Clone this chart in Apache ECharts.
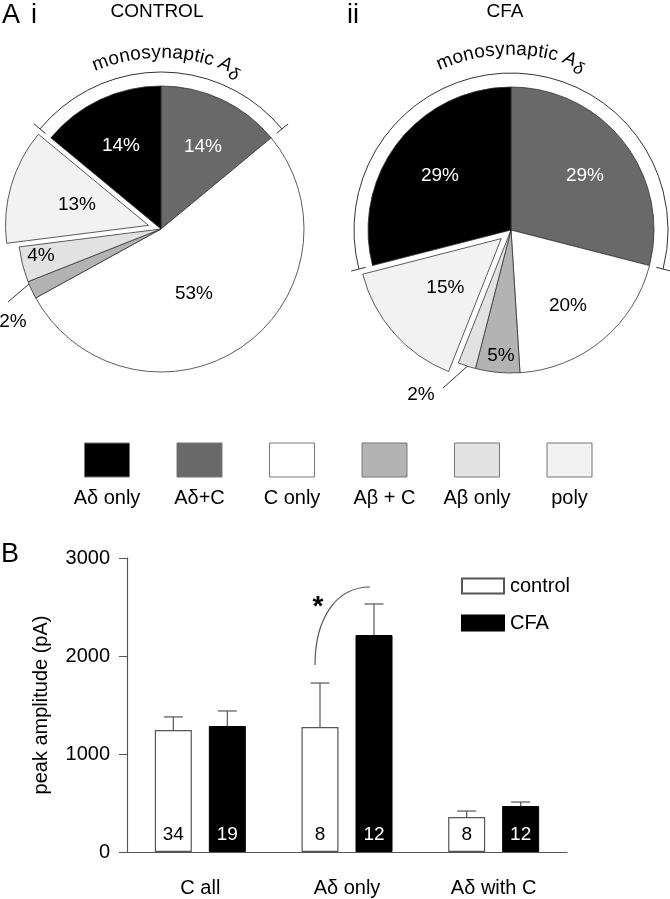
<!DOCTYPE html>
<html>
<head>
<meta charset="utf-8">
<script src="https://cdn.jsdelivr.net/npm/echarts@6/dist/echarts.min.js"></script>
<style>
  html, body { margin: 0; padding: 0; background: #fff; }
  #chart { width: 670px; height: 899px; }
</style>
</head>
<body>
<div id="chart"></div>
<script>
// ---- data ----
// pie slices, clockwise from 12 o'clock
const pieCats = ['Aδ+C', 'C only', 'Aβ + C', 'Aβ only', 'poly', 'Aδ only'];
const controlPct = [14, 53, 2, 4, 13, 14];
const cfaPct = [29, 20, 5, 2, 15, 29];
const explodedCat = 'poly';

// legend order under the pies
const legendCats = ['Aδ only', 'Aδ+C', 'C only', 'Aβ + C', 'Aβ only', 'poly'];

// bar chart
const barCats = ['C all', 'Aδ only', 'Aδ with C'];
const controlMean = [1245, 1276, 357];
const controlSem = [133, 448, 61];
const controlN = [34, 8, 8];
const cfaMean = [1286, 2214, 469];
const cfaSem = [153, 317, 41];
const cfaN = [19, 12, 12];
const yTicks = [0, 1000, 2000, 3000];

// ---- styles / layout ----
const FONT = '"Liberation Sans", Arial, Helvetica, sans-serif';
const catColor = {
  'Aδ only': '#000000',
  'Aδ+C': '#696969',
  'C only': '#ffffff',
  'Aβ + C': '#b3b3b3',
  'Aβ only': '#e2e2e2',
  'poly': '#f2f2f2'
};
const darkCats = ['Aδ only', 'Aδ+C'];
const PIE_R = 143;
const controlCenter = [161, 229];
const cfaCenter = [511, 230];
// label positions for each slice (same order as pieCats)
const controlLabelPos = [[203, 147], [194, 294], [13, 322], [41, 256], [56, 202], [121, 146]];
const cfaLabelPos = [[585, 176], [568, 306], [501, 356], [421, 395], [432, 310], [440, 176]];

const chart = echarts.init(document.getElementById('chart'), null, { renderer: 'canvas' });

function pieSeries(pct, center, labelPos) {
  return {
    type: 'pie',
    center: center,
    radius: PIE_R,
    startAngle: 90,
    clockwise: true,
    selectedMode: 'multiple',
    selectedOffset: 13,
    avoidLabelOverlap: false,
    emphasis: { disabled: true },
    itemStyle: { borderColor: '#333', borderWidth: 0.8 },
    label: {
      show: true,
      position: 'inside',
      formatter: '{c}%',
      fontSize: 19,
      fontFamily: FONT
    },
    labelLine: { show: false },
    labelLayout: function (p) {
      const pos = labelPos[p.dataIndex];
      return { x: pos[0], y: pos[1], align: 'center', verticalAlign: 'middle' };
    },
    data: pieCats.map((c, i) => ({
      name: c,
      value: pct[i],
      selected: c === explodedCat,
      itemStyle: { color: catColor[c] },
      label: { color: darkCats.includes(c) ? '#fff' : '#000' }
    }))
  };
}

// curved "monosynaptic Aδ" text
const measureCtx = document.createElement('canvas').getContext('2d');
function arcText(center, r, centerDeg) {
  const parts = [
    { t: 'monosynaptic ', size: 19, style: 'normal', dr: 0 },
    { t: 'A', size: 19, style: 'italic', dr: 0 },
    { t: 'δ', size: 17, style: 'italic', dr: -5 }
  ];
  const chars = [];
  parts.forEach(p => {
    measureCtx.font = p.style + ' ' + p.size + 'px ' + FONT;
    for (const ch of p.t) {
      chars.push({ ch, w: measureCtx.measureText(ch).width, p });
    }
  });
  const total = chars.reduce((s, c) => s + c.w, 0);
  const els = [];
  let acc = 0;
  const c0 = centerDeg * Math.PI / 180;
  chars.forEach(c => {
    const s = acc + c.w / 2;
    acc += c.w;
    if (c.ch === ' ') return;
    const th = c0 + (total / 2 - s) / r;
    const rr = r + c.p.dr;
    els.push({
      type: 'text',
      x: center[0] + rr * Math.cos(th),
      y: center[1] - rr * Math.sin(th),
      rotation: th - Math.PI / 2,
      style: {
        text: c.ch, fontSize: c.p.size, fontStyle: c.p.style, fontFamily: FONT,
        fill: '#000', align: 'center', verticalAlign: 'bottom'
      }
    });
  });
  return els;
}

// bracket arc over the monosynaptic slices
function bracket(center, pct, r) {
  const a1 = (90 - pct[0] * 3.6) * Math.PI / 180;               // math angle, end of first slice
  const a2 = (90 + pct[pct.length - 1] * 3.6) * Math.PI / 180;  // math angle, start of last slice
  const els = [{
    type: 'arc',
    shape: { cx: center[0], cy: center[1], r: r, startAngle: -a2, endAngle: -a1, clockwise: true },
    style: { stroke: '#333', fill: null, lineWidth: 1 }
  }];
  [a1, a2].forEach(a => {
    els.push({
      type: 'line',
      shape: {
        x1: center[0] + (r - 7) * Math.cos(a), y1: center[1] - (r - 7) * Math.sin(a),
        x2: center[0] + (r + 8) * Math.cos(a), y2: center[1] - (r + 8) * Math.sin(a)
      },
      style: { stroke: '#333', lineWidth: 1 }
    });
  });
  return els;
}

function txt(x, y, text, size, extra) {
  return {
    type: 'text', x: x, y: y,
    style: Object.assign({ text: text, fontSize: size, fontFamily: FONT, fill: '#000', align: 'left', verticalAlign: 'top' }, extra || {})
  };
}

// legend boxes under the pies
const legendEls = [];
legendCats.forEach((c, i) => {
  const cx = 107 + i * 92.5;
  legendEls.push({
    type: 'rect',
    shape: { x: cx - 22.5, y: 443, width: 45, height: 34 },
    style: { fill: catColor[c], stroke: '#777', lineWidth: 1 }
  });
  legendEls.push(txt(cx, 498, c, 20, { align: 'center', verticalAlign: 'middle' }));
});

function errSeries(name, mean, sem, off) {
  return {
    type: 'custom',
    name: name + '-err',
    z: 3,
    renderItem: function (params, api) {
      const ci = api.value(0);
      const p0 = api.coord([ci, api.value(1)]);
      const p1 = api.coord([ci, api.value(2)]);
      const x = p0[0] + off;
      return {
        type: 'group',
        children: [
          { type: 'line', shape: { x1: x, y1: p0[1], x2: x, y2: p1[1] }, style: { stroke: '#555', lineWidth: 1.2 } },
          { type: 'line', shape: { x1: x - 9.5, y1: p1[1], x2: x + 9.5, y2: p1[1] }, style: { stroke: '#555', lineWidth: 1.2 } }
        ]
      };
    },
    data: mean.map((m, i) => [i, m, m + sem[i]])
  };
}

const BAR_W = 37;
const BAR_GAP = 17;
const barOff = (BAR_W + BAR_GAP) / 2;

const option = {
  animation: false,
  backgroundColor: '#fff',
  legend: {
    data: ['control', 'CFA'],
    orient: 'vertical',
    left: 456,
    top: 571,
    itemWidth: 42,
    itemHeight: 15,
    itemGap: 17,
    icon: 'rect',
    selectedMode: false,
    textStyle: { fontSize: 20, fontFamily: FONT, color: '#000', padding: [0, 0, 0, 1] }
  },
  grid: { left: 127, right: 103, top: 558, bottom: 47 },
  xAxis: {
    type: 'category',
    data: barCats,
    axisLine: { lineStyle: { color: '#555', width: 1.2 } },
    axisTick: { show: false },
    axisLabel: { fontSize: 20, fontFamily: FONT, color: '#000', margin: 26 }
  },
  yAxis: {
    type: 'value',
    min: yTicks[0],
    max: yTicks[yTicks.length - 1],
    interval: 1000,
    name: 'peak amplitude (pA)',
    nameLocation: 'middle',
    nameGap: 76,
    nameTextStyle: { fontSize: 20, fontFamily: FONT, color: '#000' },
    axisLine: { show: true, lineStyle: { color: '#555', width: 1.2 } },
    axisTick: { show: true, length: 8, lineStyle: { color: '#555' } },
    splitLine: { show: false },
    axisLabel: { fontSize: 20, fontFamily: FONT, color: '#000', margin: 17, formatter: v => String(v) }
  },
  series: [
    pieSeries(controlPct, controlCenter, controlLabelPos),
    pieSeries(cfaPct, cfaCenter, cfaLabelPos),
    {
      type: 'bar',
      name: 'control',
      data: controlMean,
      barWidth: BAR_W,
      barGap: (BAR_GAP / BAR_W * 100) + '%',
      itemStyle: { color: '#fff', borderColor: '#555', borderWidth: 1.2 },
      label: {
        show: true, position: 'insideBottom', distance: 8,
        formatter: p => controlN[p.dataIndex],
        fontSize: 19, fontFamily: FONT, color: '#000'
      }
    },
    {
      type: 'bar',
      name: 'CFA',
      data: cfaMean,
      barWidth: BAR_W,
      itemStyle: { color: '#000', borderColor: '#000', borderWidth: 1 },
      label: {
        show: true, position: 'insideBottom', distance: 8,
        formatter: p => cfaN[p.dataIndex],
        fontSize: 19, fontFamily: FONT, color: '#fff'
      }
    },
    errSeries('control', controlMean, controlSem, -barOff),
    errSeries('CFA', cfaMean, cfaSem, barOff)
  ],
  graphic: [
    txt(2, 2, 'A', 27),
    txt(31, 2, 'i', 27),
    txt(157, 2, 'CONTROL', 19, { align: 'center' }),
    txt(347, 2, 'ii', 27),
    txt(505, 2, 'CFA', 19, { align: 'center' }),
    txt(1, 541, 'B', 27),
    ...arcText(controlCenter, 167, 88),
    ...arcText(cfaCenter, 171, 90),
    ...bracket(controlCenter, controlPct, 157),
    ...bracket(cfaCenter, cfaPct, 157),
    // leader lines for the 2% slices
    { type: 'line', shape: { x1: 36, y1: 278, x2: 8, y2: 302 }, style: { stroke: '#333', lineWidth: 1 } },
    { type: 'line', shape: { x1: 472, y1: 362, x2: 443, y2: 388 }, style: { stroke: '#333', lineWidth: 1 } },
    ...legendEls,
    // significance mark
    {
      type: 'bezierCurve',
      shape: { x1: 315, y1: 665, cpx1: 315, cpy1: 620, cpx2: 335, cpy2: 587, x2: 370, y2: 587 },
      style: { stroke: '#555', lineWidth: 1.2, fill: null }
    },
    txt(318, 607, '*', 28, { align: 'center', verticalAlign: 'middle', fontWeight: 'bold' })
  ]
};

chart.setOption(option);
</script>
</body>
</html>
